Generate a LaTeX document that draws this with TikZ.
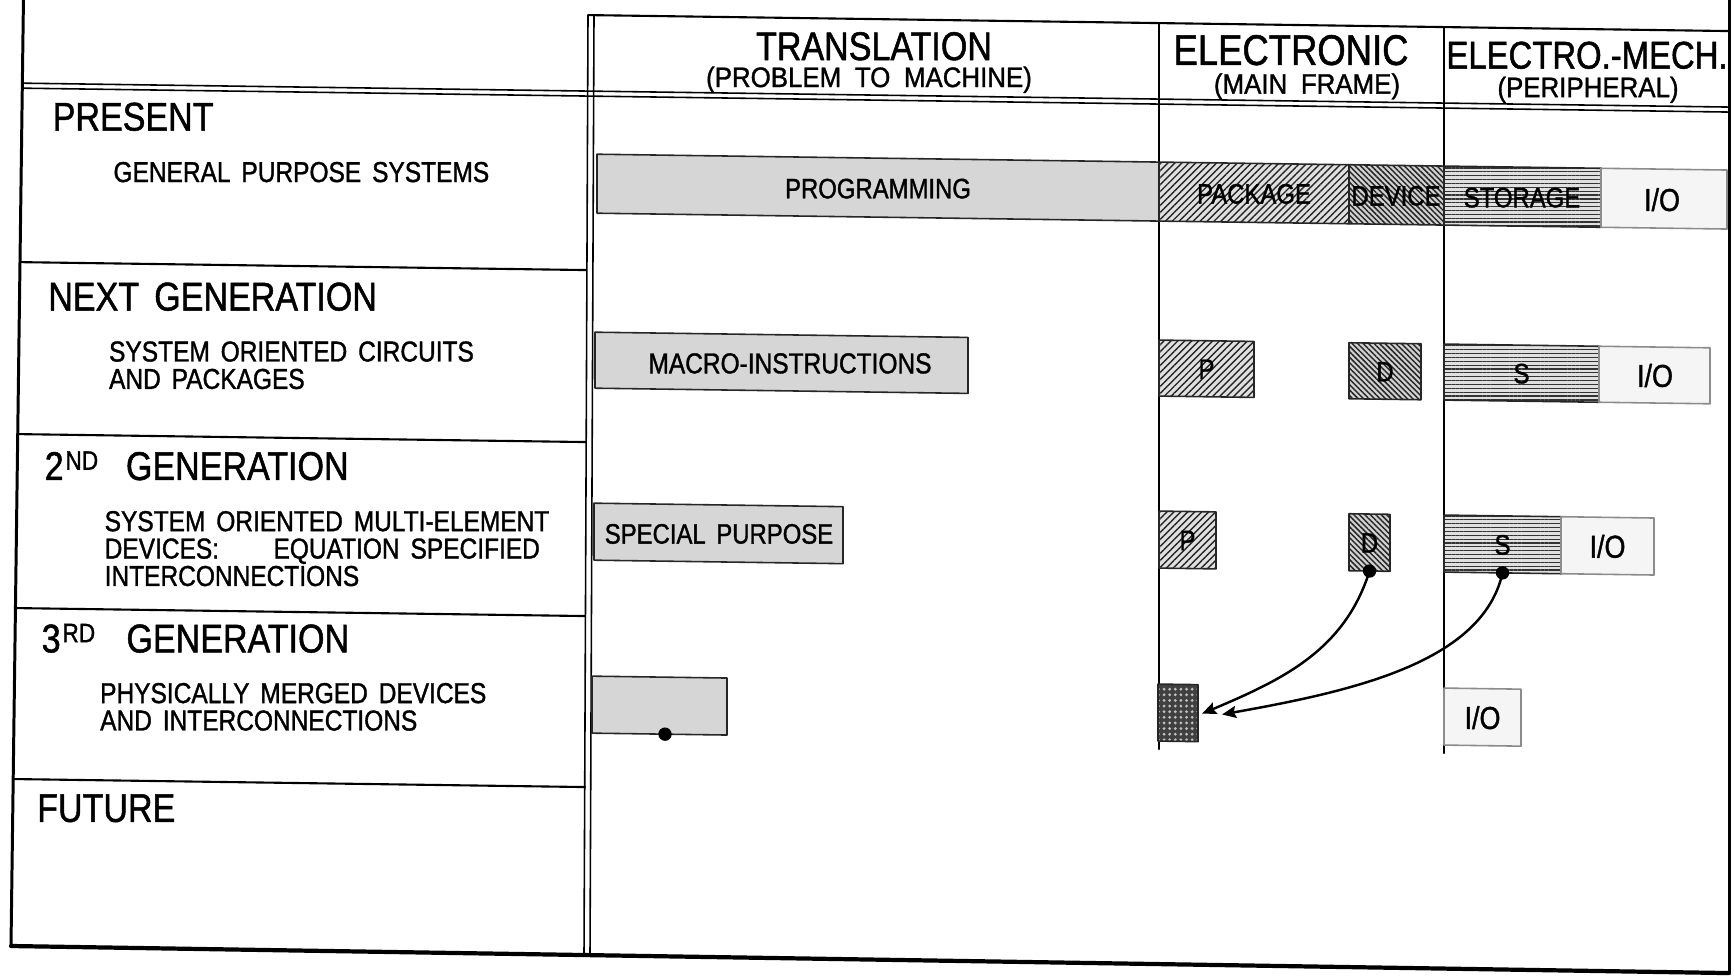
\documentclass[tikz,border=0pt]{standalone}
\usepackage{fontspec}
\newfontfamily\lettering{Liberation Sans}[FakeStretch=0.85,WordSpace=1.6,FakeBold=1.2]
\newfontfamily\letteringwide{Liberation Sans}[FakeStretch=0.92,WordSpace=1.9,FakeBold=1.2]
\usetikzlibrary{arrows.meta,patterns.meta}
\newcommand\ordsup[1]{\raisebox{2.9pt}{\fontsize{7.6}{8}\selectfont #1}}

\begin{document}
\begin{tikzpicture}[x=0.1mm, y=-0.1mm, line cap=round, line join=round,
    >={Stealth[length=4pt,width=3.4pt,inset=0.6pt]},
    frame/.style={line width=0.85pt},
    rule/.style={line width=0.6pt},
    thinrule/.style={line width=0.45pt},
    bar/.style={draw=black!85, line width=0.45pt},
    stipple/.style={bar, fill=black!16},
    iofill/.style={draw=black!45, line width=0.45pt, fill=black!4},
    hatchpkg/.style={bar, preaction={fill=black!12},
      pattern={Lines[angle=45,distance=1.4pt,line width=0.4pt]}, pattern color=black!85},
    hatchdev/.style={bar, preaction={fill=black!18},
      pattern={Lines[angle=-45,distance=1.1pt,line width=0.42pt]}, pattern color=black!85},
    hatchsto/.style={bar, preaction={fill=black!12},
      pattern={Lines[angle=0,distance=1.1pt,line width=0.35pt]}, pattern color=black!80},
    merged/.style={bar, preaction={fill=black!75},
      pattern={Dots[distance=1.6pt,radius=0.45pt]}, pattern color=black!25},
    colhead/.style={font=\lettering\fontsize{11.4}{12}\selectfont, anchor=base, inner sep=0pt},
    colsub/.style={font=\letteringwide\fontsize{8}{9}\selectfont, anchor=base, inner sep=0pt},
    rowhead/.style={font=\lettering\fontsize{11.4}{12}\selectfont, anchor=base west, inner sep=0pt},
    desc/.style={font=\lettering\fontsize{8.2}{7.8}\selectfont, anchor=north west, inner sep=0pt, align=left},
    tag/.style={font=\lettering\fontsize{8}{9}\selectfont, inner sep=0pt},
    iotag/.style={font=\lettering\fontsize{9}{10}\selectfont, inner sep=0pt},
    link/.style={line width=0.7pt}]

  % Sheet window in scan pixels
  \useasboundingbox (0,0) rectangle (1734,976);

  % The scanned sheet runs slightly downhill to the right
  \begin{scope}[yshift=1.214mm, yslant=-0.014]

    % Outer frame
    \draw[frame] (24,-30) -- (11,958);
    \draw[frame, line width=1.2pt] (11,958) -- (1729,961);
    \draw[frame] (1729,961) -- (1729,-30);

    % Column header box and its double rule
    \draw[rule] (588,19) -- (1729,19);
    \draw[thinrule] (23,95) -- (1729,95);
    \draw[thinrule] (23,100) -- (1729,100);

    % Double rule between row titles and columns
    \draw[thinrule] (588,19) -- (584,958);
    \draw[thinrule] (594,19) -- (590,958);

    % Column dividers
    \draw[rule] (1159,19) -- (1159,745);
    \draw[rule] (1444,19) -- (1444,745);

    % Row dividers in the title column
    \draw[rule] (20.3,274) -- (586,274);
    \draw[rule] (18,446) -- (586,446);
    \draw[rule] (15.6,620) -- (585,620);
    \draw[rule] (13.3,791) -- (585,791);

    % Column headings
    \node[colhead] (transl) at (874,60) {TRANSLATION};
    \node[colsub] (translsub) at (869,87) {(PROBLEM TO MACHINE)};
    \node[colhead, font=\lettering\fontsize{12.2}{13}\selectfont] (elec) at (1291,59) {ELECTRONIC};
    \node[colsub] (elecsub) at (1307,87.5) {(MAIN FRAME)};
    \node[colhead, font=\lettering\fontsize{11}{12}\selectfont] (mech) at (1587,58.5) {ELECTRO.-MECH.};
    \node[colsub] (mechsub) at (1588,87) {(PERIPHERAL)};

    % Row titles
    \node[rowhead] (present) at (52,142) {PRESENT};
    \node[desc, anchor=base west] (presentdesc) at (112.8,192.6) {GENERAL PURPOSE SYSTEMS};
    \node[rowhead] (nextgen) at (47.6,322) {NEXT GENERATION};
    \node[desc] (nextdesc) at (108.4,351.3) {SYSTEM ORIENTED CIRCUITS\\AND PACKAGES};
    \node[rowhead] (secgen) at (44,491.5) {2\kern0.5pt\ordsup{ND}\hspace{7.9pt}GENERATION};
    \node[desc] (secdesc) at (104,521) {SYSTEM ORIENTED MULTI-ELEMENT\\
      DEVICES:\hspace{15.5pt}EQUATION SPECIFIED\\INTERCONNECTIONS};
    \node[rowhead] (thirdgen) at (41,664) {3\kern0.5pt\ordsup{RD}\hspace{8.9pt}GENERATION};
    \node[desc] (thirddesc) at (99.5,693) {PHYSICALLY MERGED DEVICES\\AND INTERCONNECTIONS};
    \node[rowhead] (future) at (36.5,833.5) {FUTURE};

    % Present row
    \draw[stipple] (597,158) rectangle (1159,217);
    \draw[hatchpkg] (1159,158) rectangle (1349,217);
    \draw[hatchdev] (1349,158) rectangle (1444,217);
    \draw[hatchsto] (1444,158) rectangle (1601,217);
    \draw[iofill] (1601,158) rectangle (1727,217);
    \node[tag] (prog) at (878,188.5) {PROGRAMMING};
    \node[tag] (pkg) at (1254,188.5) {PACKAGE};
    \node[tag] (dev) at (1396,188.5) {DEVICE};
    \node[tag] (sto) at (1522,188.5) {STORAGE};
    \node[iotag] (ioa) at (1662,188.5) {I/O};

    % Next generation row
    \draw[stipple] (595,336) rectangle (968,392);
    \draw[hatchpkg] (1159,336) rectangle (1254,392);
    \draw[hatchdev] (1349,336) rectangle (1421,392);
    \draw[hatchsto] (1444,336) rectangle (1599,392);
    \draw[iofill] (1599,336) rectangle (1710,392);
    \node[tag, font=\lettering\fontsize{8.2}{9}\selectfont] (macro) at (790,364.5) {MACRO-INSTRUCTIONS};
    \node[tag] (pb) at (1206.5,364.5) {P};
    \node[tag] (db) at (1385,364.5) {D};
    \node[tag] (sb) at (1521.5,364.5) {S};
    \node[iotag] (iob) at (1655,364.5) {I/O};

    % 2nd generation row
    \draw[stipple] (594,507) rectangle (843,564);
    \draw[hatchpkg] (1159,507) rectangle (1216,564);
    \draw[hatchdev] (1349,507) rectangle (1390,564);
    \draw[hatchsto] (1444,507) rectangle (1561,564);
    \draw[iofill] (1561,507) rectangle (1654,564);
    \node[tag] (special) at (719,536) {SPECIAL PURPOSE};
    \node[tag] (pc) at (1187.5,536) {P};
    \node[tag] (dc) at (1369.5,536) {D};
    \node[tag] (sc) at (1502.5,536) {S};
    \node[iotag] (ioc) at (1607.5,536) {I/O};

    % 3rd generation row
    \draw[stipple] (592,680) rectangle (727,737);
    \draw[merged] (1158,680) rectangle (1198,737);
    \draw[iofill] (1444,680) rectangle (1521,737);
    \node[iotag] (iod) at (1482.5,709) {I/O};

    % Merging of device and storage into the 3rd generation block
    \coordinate (blankdot) at (665,737);
    \coordinate (devdot) at (1369.5,564);
    \coordinate (stodot) at (1502.5,564);
    \coordinate (mergein) at (1202,709);
    \coordinate (mergeinb) at (1222,709.5);
    \fill (blankdot) circle[radius=1.9pt];
    \fill (devdot) circle[radius=1.9pt];
    \fill (stodot) circle[radius=1.9pt];
    \draw[link,->] (devdot) .. controls +(-25,80) and +(80,-35) .. (mergein);
    \draw[link,->] (stodot) .. controls +(-20,90) and +(130,-25) .. (mergeinb);
  \end{scope}
\end{tikzpicture}
\end{document}
